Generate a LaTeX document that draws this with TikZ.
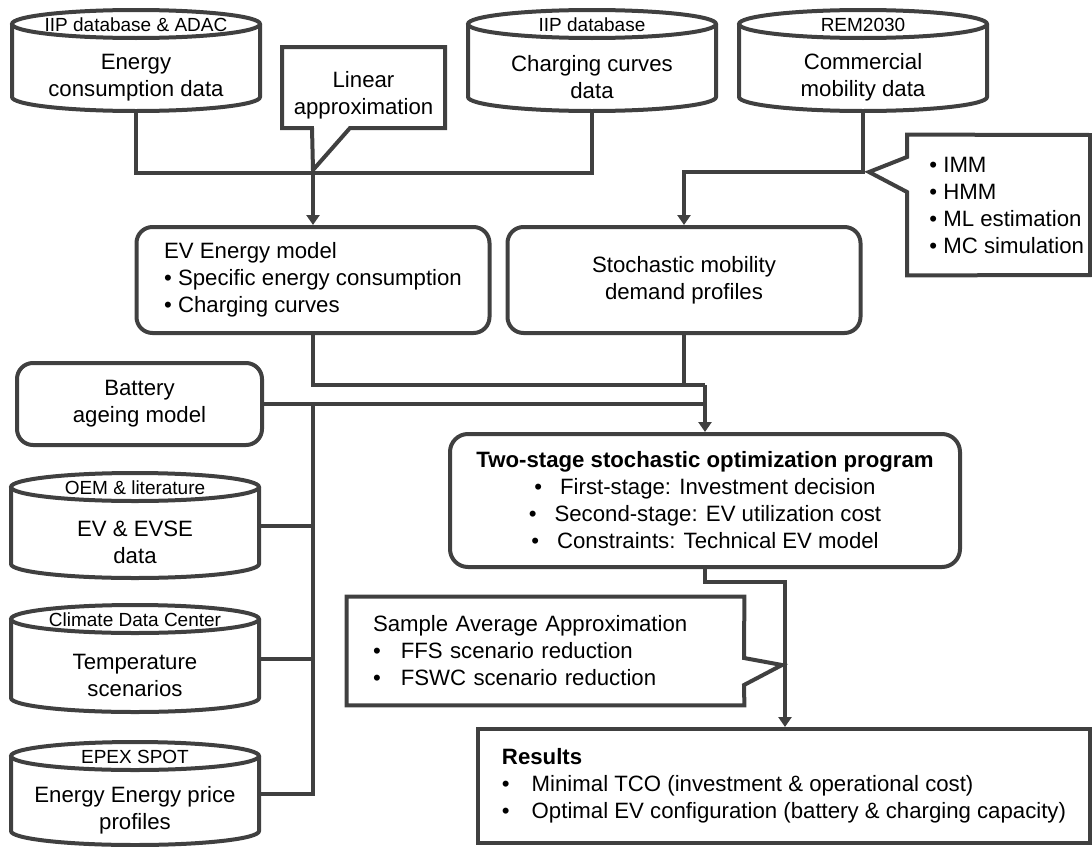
\documentclass[tikz,border=0pt]{standalone}
\usepackage{fontspec}
\setmainfont{Liberation Sans}
\usetikzlibrary{arrows.meta}

\definecolor{linegray}{HTML}{404040}

\tikzset{
  conn/.style={draw=linegray, line width=2pt},
  flow/.style={conn, -{Triangle[width=6.5pt,length=5pt]}},
  roundbox/.style={draw=linegray, line width=2pt, rounded corners=8pt},
  plainbox/.style={draw=linegray, line width=2pt},
  srclabel/.style={font=\fontsize{9.5}{11}\selectfont, inner sep=0pt},
  cyltext/.style={align=center, inner sep=0pt},
  storebody/.style={rectangle, minimum width=124pt, inner sep=0pt}
}

% data source drawn as a cylinder: name, centre x, top, bottom, source, content
\newcommand{\datacyl}[6]{%
  \draw[conn, fill=white] (#2-124,-#3-14) -- (#2-124,-#4+14)
    arc[start angle=180, end angle=360, x radius=62pt, y radius=7pt]
    -- (#2+124,-#3-14);
  \draw[conn] (#2,-#3-14) ellipse [x radius=62pt, y radius=7pt];
  \node[srclabel] at (#2,-#3-15) {#5};
  \node[storebody, minimum height={0.5pt*(#4-#3)}] (#1) at (#2,{-(#3+#4)/2}) {};
  \node[cyltext] at (#2,{-(#3+28+#4)/2-3}) {#6};
}

\begin{document}
\begin{tikzpicture}[x=0.5pt, y=0.5pt,
    every node/.style={font=\fontsize{11.1}{13.5}\selectfont}]
    \useasboundingbox (0,0) rectangle (1092,-846);

    % sources
    \datacyl{enc}{136}{10}{111}{IIP database \& ADAC}{Energy\\consumption data}
    \datacyl{ccd}{592}{10}{111}{IIP database}{Charging curves\\data}
    \datacyl{cmd}{863}{10}{111}{REM2030}{Commercial\\mobility data}
    \datacyl{oem}{135}{473}{578}{OEM \& literature}{EV \& EVSE\\data}
    \datacyl{cdc}{135}{605}{712}{Climate Data Center}{Temperature\\scenarios}
    \datacyl{epx}{135}{742}{845}{EPEX SPOT}{Energy Energy price\\profiles}

    % models
    \node[roundbox, minimum width=176.5pt, minimum height=53pt, align=left]
        (evm) at (313,-280) {EV Energy model\\
        \textbullet{} Specific energy consumption\\
        \textbullet{} Charging curves};
    \node[roundbox, minimum width=176.5pt, minimum height=53pt, align=center]
        (smp) at (684,-280) {Stochastic mobility\\demand profiles};
    \node[roundbox, minimum width=122.5pt, minimum height=41pt, align=center]
        (bat) at (139.5,-404) {Battery\\ageing model};
    \node[roundbox, rounded corners=9pt, minimum width=255pt, minimum height=66.5pt, align=center]
        (opt) at (705,-500.5) {\textbf{Two-stage stochastic optimization program}\\
        \textbullet\hspace{9pt}First-stage: Investment decision\\
        \textbullet\hspace{9pt}Second-stage: EV utilization cost\\
        \textbullet\hspace{9pt}Constraints: Technical EV model};
    \node[plainbox, minimum width=306pt, minimum height=57pt, align=left]
        (res) at (784,-786) {\textbf{Results}\\
        \textbullet\hspace{11pt}Minimal TCO (investment \& operational cost)\\
        \textbullet\hspace{11pt}Optimal EV configuration (battery \& charging capacity)};

    % callouts
    \node[align=center] (linapp) at (363.5,-95) {Linear\\approximation};
    \draw[conn] (282,-128) -- (282,-47) -- (445,-47) -- (445,-128)
        -- (350,-128) -- (313,-170) -- (312,-128) -- cycle;

    \node[anchor=west, align=left, inner xsep=11pt, minimum height=70pt]
        (imm) at (907,-205) {\textbullet{} IMM\\ \textbullet{} HMM\\
        \textbullet{} ML estimation\\ \textbullet{} MC simulation};
    \draw[conn] (imm.north west) -- (1090,-135) -- (1090,-275) -- (imm.south west)
        -- (907,-192) -- (869,-172) -- (907,-157) -- cycle;

    \node[align=left, text width=172.5pt, inner xsep=13pt, minimum height=54pt]
        (saa) at (545.5,-651) {Sample Average Approximation\\
        \textbullet\hspace{10pt}FFS scenario reduction\\
        \textbullet\hspace{10pt}FSWC scenario reduction};
    \draw[conn] (saa.north west) -- (saa.north east) -- (744,-658) -- (782,-665)
        -- (744,-685) -- (saa.south east) -- (saa.south west) -- cycle;

    % connectors
    \coordinate (mergeA) at (313,-173);
    \draw[conn] (enc.south) |- (mergeA) -| (ccd.south);
    \draw[flow] (mergeA) -- (mergeA |- evm.north);
    \coordinate (mergeB) at (684,-172);
    \draw[flow] (cmd.south) |- (mergeB) -- (mergeB |- smp.north);
    \coordinate (mergeC) at (705,-385);
    \draw[conn] (evm.south) |- (mergeC);
    \draw[conn] (smp.south) -- (smp.south |- mergeC);
    \draw[conn] (bat.east) -- (bat.east -| mergeC);
    \draw[flow] (mergeC) -- (mergeC |- opt.north);
    \coordinate (trunk) at (bat.east -| evm.south);
    \draw[conn] (trunk) |- (epx.east);
    \draw[conn] (oem.east) -- (oem.east -| trunk);
    \draw[conn] (cdc.east) -- (cdc.east -| trunk);
    \coordinate (mergeD) at (785,-582);
    \draw[flow] (opt.south) |- (mergeD) -- (mergeD |- res.north);
\end{tikzpicture}
\end{document}
